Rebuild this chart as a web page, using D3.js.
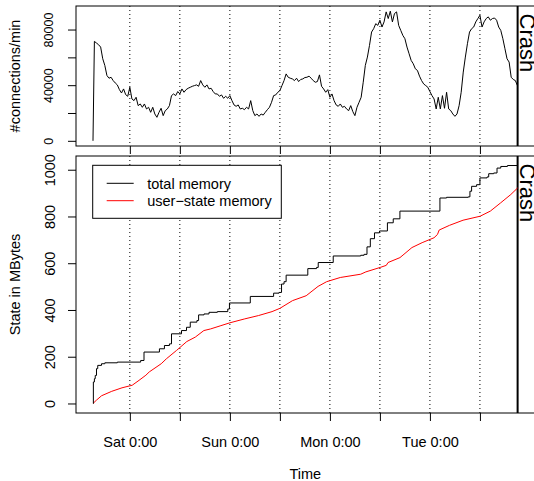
<!DOCTYPE html>
<html>
<head>
<meta charset="utf-8">
<script src="https://cdn.jsdelivr.net/npm/d3@7"></script>
<style>
    body { margin: 0; background: #fff; }
    svg { display: block; font-family: "Liberation Sans", Arial, sans-serif; }
</style>
</head>
<body>
<div id="chart"></div>
<script>
// all times are hours counted from Sat 0:00
var startHour = -8.84;
var crashHour = 93.04;

var tickHours = [0, 12, 24, 36, 48, 60, 72, 84];
var tickLabels = ["Sat 0:00", "", "Sun 0:00", "", "Mon 0:00", "", "Tue 0:00", ""];

var connTicks = [0, 20000, 40000, 60000, 80000];
var connTickLabels = ["0", "", "40000", "", "80000"];
var memTicks = [0, 200, 400, 600, 800, 1000];

// connections per minute, one reading every half hour
var connInitial = 0;
var connFirstHour = -8.5;
var connStep = 0.5;
var connValues = [
    71500, 70300, 69100, 67400, 59000, 54200, 47000, 45000, 45700, 43300,
    41600, 40200, 36800, 34400, 37300, 33200, 32000, 38500, 30100, 28900,
    31300, 25300, 26500, 24100, 26500, 22900, 24100, 20500, 24100, 19300,
    16900, 20500, 23400, 18100, 21700, 22900, 25300, 32500, 33700, 32500,
    35400, 33700, 37300, 34900, 36800, 37800, 38500, 39200, 39700, 40200,
    39200, 43300, 40200, 38500, 40200, 37300, 37800, 35400, 33700, 33700,
    32000, 33000, 30600, 32000, 30600, 32500, 28900, 25800, 24800, 25800,
    22900, 23400, 22400, 24100, 22900, 28900, 21700, 18100, 19300, 17600,
    19300, 18500, 20500, 22400, 24100, 27700, 32500, 33000, 34900, 36100,
    39700, 43300, 48100, 45700, 45000, 44500, 43300, 45000, 42600, 44100,
    44500, 45500, 45700, 46500, 45000, 43300, 42100, 42600, 47400, 39200,
    37300, 34900, 36800, 31300, 33700, 28900, 25800, 24800, 26500, 24100,
    24800, 22900, 21700, 25300, 21000, 18100, 24100, 27700, 31300, 42100,
    54200, 60200, 68600, 78200, 80600, 84200, 83000, 86700, 81800, 85500,
    92700, 87900, 93200, 85500, 91500, 92700, 83000, 79400, 75800, 73400,
    67400, 62600, 57800, 55400, 51800, 50600, 46500, 43300, 40900, 39700,
    38500, 35400, 32500, 30100, 22900, 31300, 22900, 32500, 23400, 34900,
    22900, 21700, 19300, 17600, 19300, 25300, 34900, 49400, 60200, 69800,
    78200, 80600, 81800, 85500, 87900, 90300, 81800, 85500, 87900, 89100,
    86700, 87900, 88300, 86700, 81800, 79400, 73400, 66200, 59000, 56600,
    45700, 44100, 43300, 39700
];

// total memory (MBytes), level changes
var totalHours = [
    -8.84, -8.75, -8.5, -8.3, -8.0, -7.7, -6.8, -6.0, -3.0, 2.6,
    3.4, 7.1, 8.3, 9.5, 10.0, 12.4, 13.6, 14.5, 16.1, 16.5,
    17.8, 19.0, 21.0, 23.5, 23.9, 28.9, 34.5, 35.8, 36.4, 37.0,
    37.5, 42.7, 44.8, 45.2, 48.8, 55.4, 56.2, 56.9, 57.7, 58.7,
    59.9, 61.8, 63.2, 64.8, 74.4, 76.0, 81.2, 81.6, 82.0, 83.2,
    84.0, 85.7, 86.1, 87.3, 88.1, 89.0, 90.6, 93.04
];
var totalValues = [
    0, 92, 106, 120, 149, 163, 170, 174, 177, 184,
    220, 234, 248, 255, 298, 312, 326, 348, 355, 379,
    383, 390, 393, 404, 430, 458, 472, 475, 511, 521,
    549, 577, 582, 603, 631, 634, 638, 670, 705, 730,
    738, 773, 790, 823, 879, 882, 884, 908, 929, 936,
    965, 969, 983, 986, 1007, 1014, 1018, 1018
];

// user-state memory (MBytes)
var userHours = [
    -8.84, -8.02, -6.79, -4.34, -1.88, 0.57, 2.21, 3.85, 4.66, 7.53,
    8.76, 11.21, 13.67, 15.71, 17.76, 19.39, 21.85, 23.98, 27.58, 30.85,
    34.12, 36.01, 39.03, 42.31, 45.17, 47.22, 50.49, 55.4, 56.63, 60.07,
    61.54, 61.95, 64.81, 67.68, 70.13, 72.99, 73.81, 74.22, 76.68, 79.95,
    84.04, 86.5, 88.95, 91.41, 93.04
];
var userValues = [
    0, 14, 33, 52, 67, 78, 99, 121, 135, 170,
    191, 227, 265, 284, 312, 319, 333, 345, 362, 376,
    393, 407, 440, 461, 501, 521, 539, 553, 563, 582,
    591, 603, 624, 667, 688, 709, 723, 742, 762, 784,
    801, 823, 858, 894, 922
];

var legendLabels = ["total memory", "user\u2212state memory"];
var legendColors = ["#000000", "#ff0000"];

var width = 534, height = 481;
var left = 76, right = 534.6;
var topPanel = { top: 6, bottom: 146 };
var botPanel = { top: 156, bottom: 413 };

// R style 4% padding of the data range
var pad = function (ext) {
    var r = ext[1] - ext[0];
    return [ext[0] - 0.04 * r, ext[1] + 0.04 * r];
};

var svg = d3.select("#chart").append("svg")
    .attr("width", width)
    .attr("height", height);

var x = d3.scaleLinear()
    .domain(pad([startHour, crashHour]))
    .range([left, right]);

var connPts = [[startHour, connInitial]].concat(connValues.map(function (v, i) {
    return [connFirstHour + i * connStep, v];
}));

var yTop = d3.scaleLinear()
    .domain(pad(d3.extent(connPts, function (d) { return d[1]; })))
    .range([topPanel.bottom, topPanel.top]);

var yBot = d3.scaleLinear()
    .domain(pad([0, d3.max(totalValues)]))
    .range([botPanel.bottom, botPanel.top]);

var drawPanel = function (p) {
    // dotted guides at every 12 hours
    svg.append("g").selectAll("line")
        .data(tickHours)
        .enter()
        .append("line")
        .attr("x1", function (d) { return x(d); })
        .attr("x2", function (d) { return x(d); })
        .attr("y1", p.top)
        .attr("y2", p.bottom)
        .attr("stroke", "#000")
        .attr("stroke-width", 1)
        .attr("stroke-dasharray", "1,3");

    // crash marker
    svg.append("line")
        .attr("x1", x(crashHour)).attr("x2", x(crashHour))
        .attr("y1", p.top).attr("y2", p.bottom)
        .attr("stroke", "#000")
        .attr("stroke-width", 2);

    svg.append("text")
        .attr("transform", "translate(" + (x(crashHour) + 2) + "," + (p.top + 7.5) + ") rotate(90)")
        .attr("font-size", "22px")
        .attr("text-anchor", "start")
        .text("Crash");

    svg.append("rect")
        .attr("x", left)
        .attr("y", p.top)
        .attr("width", right - left)
        .attr("height", p.bottom - p.top)
        .attr("fill", "none")
        .attr("stroke", "#000")
        .attr("stroke-width", 1);
};

drawPanel(topPanel);
drawPanel(botPanel);

// top panel: connections
svg.append("path")
    .datum(connPts)
    .attr("fill", "none")
    .attr("stroke", "#000")
    .attr("stroke-width", 1)
    .attr("stroke-linejoin", "round")
    .attr("d", d3.line()
        .x(function (d) { return x(d[0]); })
        .y(function (d) { return yTop(d[1]); }));

// bottom panel: memory
svg.append("path")
    .datum(d3.zip(userHours, userValues))
    .attr("fill", "none")
    .attr("stroke", legendColors[1])
    .attr("stroke-width", 1)
    .attr("d", d3.line()
        .x(function (d) { return x(d[0]); })
        .y(function (d) { return yBot(d[1]); }));

svg.append("path")
    .datum(d3.zip(totalHours, totalValues))
    .attr("fill", "none")
    .attr("stroke", legendColors[0])
    .attr("stroke-width", 1)
    .attr("d", d3.line()
        .curve(d3.curveStepAfter)
        .x(function (d) { return x(d[0]); })
        .y(function (d) { return yBot(d[1]); }));

// axes
var styleAxis = function (g, size) {
    g.select(".domain").remove();
    g.attr("font-family", null).attr("font-size", size);
    g.selectAll(".tick line").attr("stroke", "#000");
    g.selectAll(".tick text").attr("fill", "#000");
};

svg.append("g")
    .attr("transform", "translate(0," + topPanel.bottom + ")")
    .call(d3.axisBottom(x).tickValues(tickHours).tickFormat("").tickSize(8))
    .call(styleAxis, "14.5px");

var xAxisBot = svg.append("g")
    .attr("transform", "translate(0," + botPanel.bottom + ")")
    .call(d3.axisBottom(x).tickValues(tickHours)
        .tickFormat(function (d, i) { return tickLabels[i]; })
        .tickSize(8))
    .call(styleAxis, "14.5px");
xAxisBot.selectAll(".tick text").attr("y", 33.7).attr("dy", 0);

var yAxisTop = svg.append("g")
    .attr("transform", "translate(" + left + ",0)")
    .call(d3.axisLeft(yTop).tickValues(connTicks)
        .tickFormat(function (d, i) { return connTickLabels[i]; })
        .tickSize(8))
    .call(styleAxis, "12.5px");
yAxisTop.selectAll(".tick text")
    .attr("transform", "rotate(-90)")
    .attr("x", 0).attr("y", -23).attr("dy", 0)
    .attr("text-anchor", "middle");

var yAxisBot = svg.append("g")
    .attr("transform", "translate(" + left + ",0)")
    .call(d3.axisLeft(yBot).tickValues(memTicks).tickFormat(d3.format("d")).tickSize(8))
    .call(styleAxis, "14.5px");
yAxisBot.selectAll(".tick text")
    .attr("transform", "rotate(-90)")
    .attr("x", 0).attr("y", -21).attr("dy", 0)
    .attr("text-anchor", "middle");

// axis titles
svg.append("text")
    .attr("transform", "translate(20," + ((topPanel.top + topPanel.bottom) / 2) + ") rotate(-90)")
    .attr("text-anchor", "middle")
    .attr("font-size", "14.5px")
    .text("#connections/min");

svg.append("text")
    .attr("transform", "translate(19.5," + ((botPanel.top + botPanel.bottom) / 2) + ") rotate(-90)")
    .attr("text-anchor", "middle")
    .attr("font-size", "14.5px")
    .text("State in MBytes");

svg.append("text")
    .attr("x", (left + right) / 2)
    .attr("y", 478.5)
    .attr("text-anchor", "middle")
    .attr("font-size", "14.5px")
    .text("Time");

// legend
var legend = svg.append("g").attr("transform", "translate(92.7,165.3)");
legend.append("rect")
    .attr("width", 188.6)
    .attr("height", 53)
    .attr("fill", "#fff")
    .attr("stroke", "#000");

var item = legend.selectAll("g.item")
    .data(legendLabels)
    .enter()
    .append("g")
    .attr("class", "item")
    .attr("transform", function (d, i) { return "translate(0," + (18 + i * 17.4) + ")"; });

item.append("line")
    .attr("x1", 14).attr("x2", 41)
    .attr("stroke", function (d, i) { return legendColors[i]; })
    .attr("stroke-width", 1);

item.append("text")
    .attr("x", 54.5)
    .attr("dy", "0.36em")
    .attr("font-size", "14.5px")
    .text(function (d) { return d; });
</script>
</body>
</html>
